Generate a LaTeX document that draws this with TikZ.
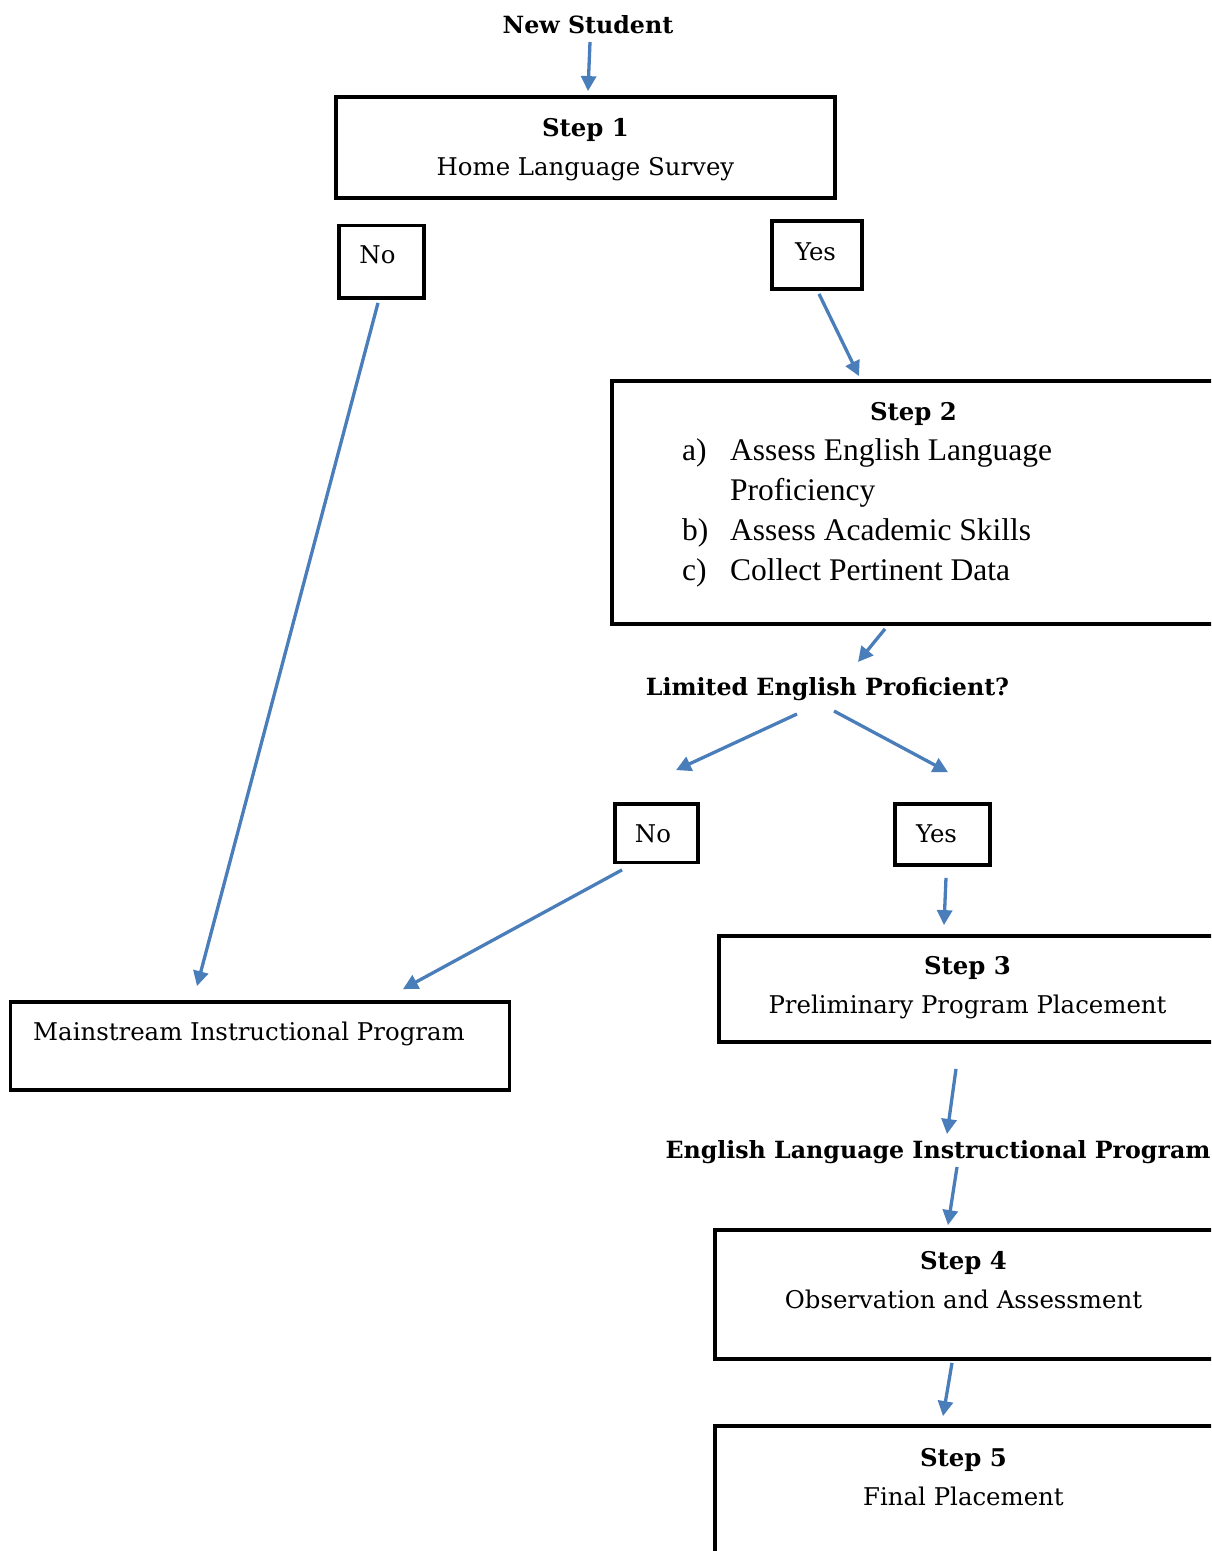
\documentclass[tikz,border=0pt]{standalone}
\usepackage{fontspec}
\setmainfont{DejaVu Serif}
\newfontfamily\listfont{Liberation Serif}
\usetikzlibrary{arrows.meta}
\usetikzlibrary{positioning}
\usetikzlibrary{calc}
\definecolor{flowblue}{RGB}{74,126,187}
\tikzstyle{box}=[rectangle, draw, line width=3.8pt, inner sep=0pt]
\tikzstyle{txt}=[inner sep=0pt, anchor=base, align=center, font=\fontsize{24.4}{39}\selectfont]
\tikzstyle{head}=[txt, font=\fontsize{23.7}{39}\selectfont\bfseries]
\tikzstyle{flow}=[->, draw=flowblue, line width=3.3pt]

\begin{document}
\begin{tikzpicture}[x=1pt, y=-1pt, >={Triangle[length=15pt, width=15pt]}]
    \path[use as bounding box, fill=white] (0,0) rectangle (1211,1551);
    \clip (0,0) rectangle (1211,1551);

    % boxes
    \node[box, minimum width=499pt, minimum height=101pt] (S1) at (585.5,147.5) {};
    \node[box, minimum width=85pt, minimum height=72.5pt] (No1) at (381.5,261.75) {};
    \node[box, minimum width=90pt, minimum height=68pt] (Yes1) at (817,255) {};
    \node[box, minimum width=618pt, minimum height=243pt] (S2) at (921,502.5) {};
    \node[box, minimum width=83pt, minimum height=58.5pt] (No2) at (656.5,833.25) {};
    \node[box, minimum width=95pt, minimum height=61pt] (Yes2) at (942.5,834.5) {};
    \node[box, minimum width=511pt, minimum height=106pt] (S3) at (974.5,989) {};
    \node[box, minimum width=499pt, minimum height=88pt] (Main) at (260,1046) {};
    \node[box, minimum width=515pt, minimum height=129pt] (S4) at (972.5,1294.5) {};
    \node[box, minimum width=515pt, minimum height=174pt] (S5) at (972.5,1513) {};

    % texts (base = last line)
    \node[head] (New) at (588,33) {New Student};
    \node[txt] (S1t) at (585.5,175) {\textbf{Step 1}\\Home Language Survey};
    \node[txt] (No1t) at (377.5,263) {No};
    \node[txt] (Yes1t) at (815.5,260) {Yes};
    \node[txt] (S2t) at (913.5,420) {\textbf{Step 2}};
    \node[txt, anchor=base west, align=left, font=\listfont\fontsize{31.5}{40}\selectfont] (S2l) at (682,460)
        {\begin{tabular}[t]{@{}p{48pt}@{}l@{}}
            a) & Assess English Language\\
               & Proficiency\\
            b) & Assess Academic Skills\\
            c) & Collect Pertinent Data
        \end{tabular}};
    \node[head] (LEP) at (827.5,695) {Limited English Proficient?};
    \node[txt] (No2t) at (653,842) {No};
    \node[txt] (Yes2t) at (936.5,842) {Yes};
    \node[txt] (S3t) at (967.5,1013) {\textbf{Step 3}\\Preliminary Program Placement};
    \node[txt] (Maint) at (249,1040) {Mainstream Instructional Program};
    \node[head] (ELIP) at (938,1158) {English Language Instructional Program};
    \node[txt] (S4t) at (963.5,1308) {\textbf{Step 4}\\Observation and Assessment};
    \node[txt] (S5t) at (963.5,1505) {\textbf{Step 5}\\Final Placement};

    % arrows
    \draw[flow] ($(New.base)+(2,9)$) -- ($(S1.north)+(2.5,-4)$);
    \draw[flow] ($(Yes1.south)+(2,3)$) -- ($(S2.north)+(-62,-3)$);
    \draw[flow] ($(No1.south)+(-3.5,3)$) -- ($(Main.north)+(-63,-14)$);
    \draw[flow] ($(S2.south)+(-36,3)$) -- ($(LEP.base)+(30.5,-33)$);
    \draw[flow] ($(LEP.base)+(-30.5,19)$) -- ($(No2.north)+(19.5,-32)$);
    \draw[flow] ($(LEP.base)+(6.5,16)$) -- ($(Yes2.north)+(5.5,-30)$);
    \draw[flow] ($(No2.south)+(-34.5,5.5)$) -- ($(Main.north)+(143,-11)$);
    \draw[flow] ($(Yes2.south)+(3.5,11)$) -- ($(S3.north)+(-30.5,-9)$);
    \draw[flow] ($(S3.south)+(-18.5,25)$) -- ($(ELIP.base)+(9,-24)$);
    \draw[flow] ($(ELIP.base)+(19,9)$) -- ($(S4.north)+(-24.5,-3)$);
    \draw[flow] ($(S4.south)+(-20.5,2)$) -- ($(S5.north)+(-29.5,-8)$);
\end{tikzpicture}
\end{document}
